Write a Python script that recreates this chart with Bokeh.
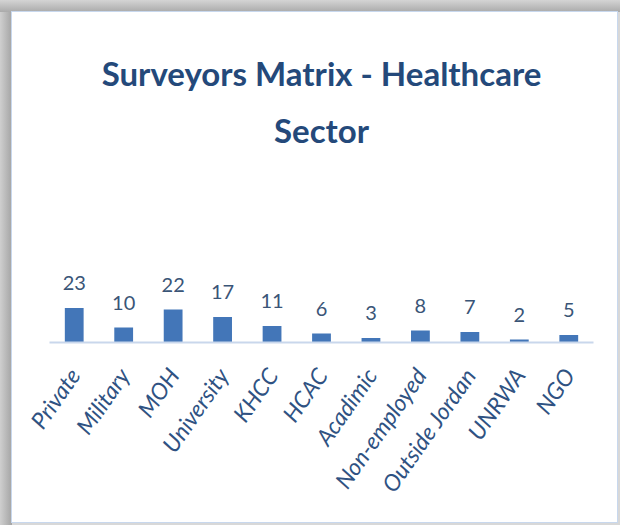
import math
from bokeh.plotting import figure
from bokeh.layouts import column
from bokeh.models import ColumnDataSource, LabelSet, Title, Range1d
from bokeh.core.properties import value
from bokeh.embed import file_html
from bokeh.resources import INLINE

# ---- data ----
categories = ["Private", "Military", "MOH", "University", "KHCC", "HCAC",
              "Acadimic", "Non-employed", "Outside Jordan", "UNRWA", "NGO"]
counts = [23, 10, 22, 17, 11, 6, 3, 8, 7, 2, 5]
title_line1 = "Surveyors Matrix - Healthcare"
title_line2 = "Sector"

source = ColumnDataSource(dict(cat=categories, n=counts,
                               lbl=[str(v) for v in counts]))

TITLE_COLOR = "#24497a"
LABEL_COLOR = "#2f5282"
BAR_COLOR = "#4376b8"

p = figure(x_range=categories, y_range=Range1d(0, 129),
           width=605, height=510, output_backend="svg",
           toolbar_location=None,
           min_border_left=37, min_border_right=24,
           min_border_bottom=180, min_border_top=137)

p.margin = (12, 3, 3, 12)
p.styles = {"box-shadow": "0px 0px 0px 1px #c8d8ee",
            "background-color": "white"}

p.x_range.range_padding = 0

p.title.text = title_line1
p.title.align = "center"
p.title.text_font = "Lato"
p.title.text_font_style = "bold"
p.title.text_font_size = "33px"
p.title.text_color = TITLE_COLOR
p.title.standoff = 30

t2 = Title(text=title_line2, align="center", text_font="Lato",
           text_font_style="bold", text_font_size="33px",
           text_color=TITLE_COLOR, standoff=0)
p.add_layout(t2, "above")

p.vbar(x="cat", top="n", width=0.38, source=source,
       fill_color=BAR_COLOR, line_color=None)

labels = LabelSet(x="cat", y="n", text="lbl", source=source,
                  text_align="center", text_baseline="bottom",
                  y_offset=18, text_font=value("Lato"),
                  text_font_size=value("20px"),
                  text_color="#3a5577")
p.add_layout(labels)

p.xgrid.visible = False
p.ygrid.visible = False
p.yaxis.visible = False
p.outline_line_color = None
p.background_fill_color = "white"
p.border_fill_color = "white"

xa = p.xaxis[0]
xa.axis_line_color = "#c9d7ec"
xa.axis_line_width = 2
xa.major_tick_line_color = None
xa.minor_tick_line_color = None
xa.major_label_orientation = math.radians(55)
xa.major_label_text_font = "Lato"
xa.major_label_text_font_style = "italic"
xa.major_label_text_font_size = "23px"
xa.major_label_text_color = LABEL_COLOR
xa.major_label_standoff = 22

layout = column(p, styles={
    "background": ("linear-gradient(to bottom, #d4d4d4 0px, #aaaaaa 12px, "
                   "rgba(0,0,0,0) 12px), "
                   "linear-gradient(to right, #cfcfcf 0px, #a4a4a4 12px, "
                   "#d8d8d8 12px)")
})

open("out.html", "w").write(file_html(layout, INLINE))
